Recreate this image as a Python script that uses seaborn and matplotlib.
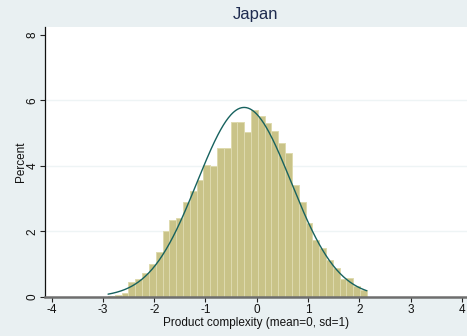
import numpy as np
import pandas as pd
import matplotlib
matplotlib.use("Agg")
import matplotlib.pyplot as plt
import seaborn as sns

# Histogram of product complexity for Japan (percent of products per bin)
bin_start = -2.90
bin_width = 0.1328
percent = [0.02, 0.06, 0.12, 0.46, 0.55, 0.72, 1.02, 1.38, 2.00, 2.35,
           2.41, 2.90, 3.22, 3.56, 4.02, 4.01, 4.55, 4.55, 5.35, 5.35,
           5.03, 5.72, 5.53, 5.32, 5.08, 4.71, 4.40, 3.42, 2.90, 2.27,
           1.74, 1.49, 1.13, 0.88, 0.56, 0.57, 0.33, 0.20]
x_ticks = [-4, -3, -2, -1, 0, 1, 2, 3, 4]
y_ticks = [0, 2, 4, 6, 8]
panel_title = "Japan"
x_label = "Product complexity (mean=0, sd=1)"
y_label = "Percent"

edges = bin_start + bin_width * np.arange(len(percent) + 1)
centers = (edges[:-1] + edges[1:]) / 2
df = pd.DataFrame({"complexity": centers, "percent": percent})

# Normal density with the sample's mean and sd, scaled to percent per bin
w = np.array(percent) / np.sum(percent)
mu = np.sum(w * centers)
sd = np.sqrt(np.sum(w * (centers - mu) ** 2) + bin_width ** 2 / 12)
xs = np.linspace(edges[0], edges[-1], 300)
dens = 100 * bin_width * np.exp(-0.5 * ((xs - mu) / sd) ** 2) / (sd * np.sqrt(2 * np.pi))

bg = "#E9F0F2"
sns.set_theme(style="white")
plt.rcParams["font.family"] = ["Liberation Sans", "DejaVu Sans"]

fig = plt.figure(figsize=(4.67, 3.36), dpi=100, facecolor=bg)
ax = fig.add_axes([45 / 467, 39 / 336, 422 / 467, 270 / 336])
ax.set_facecolor("white")

for yv in [2, 4, 6]:
    ax.axhline(yv, color="#EEF4F5", lw=1.0, zorder=0)

sns.histplot(data=df, x="complexity", weights="percent", bins=list(edges),
             stat="count", color="#C9C388", edgecolor="#DEDAAE",
             linewidth=0.7, alpha=1.0, ax=ax, zorder=2)
sns.lineplot(x=xs, y=dens, color="#17625F", lw=1.0, ax=ax, zorder=3)

ax.set_xlim(-4.13, 4.10)
ax.set_ylim(0, 8.24)
ax.set_xticks(x_ticks)
ax.set_yticks(y_ticks)
ax.set_xticklabels([str(v) for v in x_ticks], fontsize=8.5, color="#111111")
ax.set_yticklabels([str(v) for v in y_ticks], fontsize=8.5, color="#111111",
                   rotation=90, va="center")
ax.tick_params(axis="x", direction="out", length=3.6, width=0.8,
               color="#222222", pad=1.5, bottom=True)
ax.tick_params(axis="y", direction="out", length=3.6, width=0.8,
               color="#222222", pad=1.0, left=True)
ax.set_xlabel(x_label, fontsize=8.5, color="#111111", labelpad=1)
ax.set_ylabel(y_label, fontsize=8.5, color="#111111", labelpad=0)

for side in ["top", "right"]:
    ax.spines[side].set_visible(False)
ax.spines["left"].set_color("#111111")
ax.spines["left"].set_linewidth(0.9)
ax.spines["bottom"].set_color("#6E6E6E")
ax.spines["bottom"].set_linewidth(1.8)

fig.text(256 / 467, 1 - 14 / 336, panel_title, ha="center", va="center",
         fontsize=12, color="#1E2B4F")

fig.savefig("out.png", dpi=100, facecolor=bg)
